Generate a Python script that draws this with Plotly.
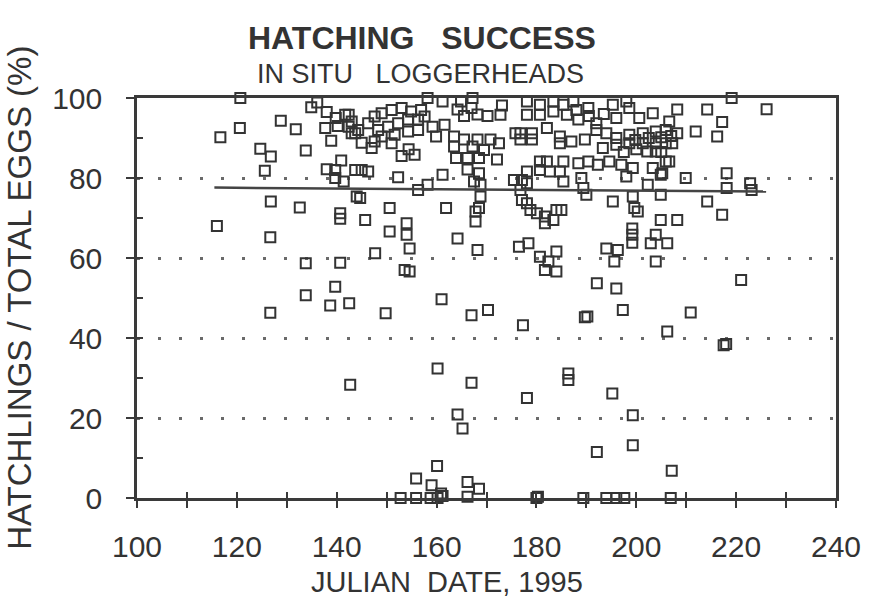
import plotly.graph_objects as go

# Julian day of each in-situ loggerhead nest and its hatching success (%)
julian_day = [
    # early season, sparse
    116.0, 116.7, 120.7, 120.6, 124.7, 126.8, 125.6, 128.8, 131.8, 133.8,
    126.8, 132.6, 126.7, 126.7, 133.8, 133.8, 134.9, 136.1, 138.0, 139.8,
    141.7, 137.7, 140.2, 142.4, 143.7, 138.9, 140.9, 138.0, 139.7, 143.7,
    139.7, 141.4, 144.0, 140.7, 140.7, 145.7, 140.7, 139.7, 138.7, 142.5,
    142.7,
    # 142-158
    142.4, 143.0, 143.0, 144.3, 146.3, 147.6, 149.0, 151.0, 153.0, 154.9,
    156.9, 148.3, 150.3, 152.3, 154.3, 156.3, 157.6, 149.0, 151.6, 154.3,
    156.3, 147.6, 145.0, 147.0, 151.0, 153.0, 155.6, 154.4, 145.0, 146.3,
    150.6, 144.7, 156.3, 158.2, 152.3, 154.0, 150.6, 154.0, 154.6, 147.7,
    153.6, 154.6, 149.8,
    # 158-176
    158.2, 161.2, 164.9, 167.2, 167.0, 173.1, 172.8, 164.2, 165.5, 168.2,
    170.2, 159.2, 161.6, 159.9, 163.5, 165.5, 168.2, 170.8, 172.5, 163.5,
    167.2, 169.5, 175.8, 163.9, 166.2, 168.5, 172.1, 166.2, 168.5, 161.2,
    167.5, 168.8, 168.8, 175.5, 168.5, 161.9, 164.2, 167.8, 167.8, 168.2,
    161.0, 167.0, 170.3, 177.3, 160.2, 167.0, 164.2, 165.2, 160.1, 155.9,
    159.0, 160.9, 166.2, 168.5, 166.2, 152.8, 155.9, 158.8, 160.2, 161.2,
    # 176-186
    177.1, 176.8, 177.1, 178.1, 178.8, 180.1, 181.7, 183.4, 181.7, 184.0,
    176.5, 178.4, 180.7, 182.4, 184.0, 181.7, 184.0, 178.1, 186.4, 186.4,
    180.0, 180.3, 178.1, 180.7, 183.4, 185.4, 178.1, 180.7, 183.4, 186.1,
    176.8, 179.1, 176.8, 179.1, 182.1, 184.7, 184.7, 180.7, 182.1, 185.4,
    180.7, 182.7, 184.7, 178.1, 178.1, 185.4, 185.0,
    # 186-210
    187.4, 190.4, 195.3, 198.0, 198.6, 188.4, 192.0, 196.0, 200.6, 203.3,
    206.6, 187.0, 189.7, 192.0, 194.0, 196.0, 198.6, 201.3, 203.9, 205.9,
    196.0, 198.6, 201.3, 203.9, 205.9, 202.2, 203.9, 193.3, 189.0, 188.4,
    190.4, 192.3, 194.6, 197.0, 199.3, 203.3, 206.6, 198.0, 204.9, 189.4,
    202.3, 190.0, 195.3, 199.3, 204.9, 199.6, 200.3, 204.9, 208.2, 199.2,
    199.2, 199.2, 203.9, 202.9, 206.2, 194.0, 196.3, 195.6, 203.9, 192.1,
    196.0, 197.3, 189.7, 190.2, 195.2, 199.3, 192.1, 199.3, 189.4, 194.0,
    196.0, 197.6, 197.5, 200.0, 205.0, 207.0, 199.8, 202.5, 205.0, 190.5,
    193.5, 188.0,
    # late season
    208.2, 214.2, 219.1, 226.1, 217.2, 211.9, 216.2, 208.2, 207.2, 205.9,
    205.2, 209.9, 218.1, 218.1, 222.8, 223.1, 214.2, 217.2, 210.9, 206.2,
    217.5, 218.0, 221.0, 207.1, 206.9,
]

hatch_pct = [
    # early season, sparse
    68.0, 90.2, 100.0, 92.5, 87.3, 85.4, 81.8, 94.3, 92.2, 86.9,
    74.1, 72.6, 65.2, 46.3, 58.7, 50.7, 97.7, 98.9, 96.5, 95.0,
    95.8, 92.5, 93.0, 92.8, 91.2, 89.3, 84.4, 82.2, 82.0, 82.0,
    80.0, 79.1, 75.4, 71.2, 69.8, 69.5, 58.8, 52.8, 48.1, 48.7,
    28.3,
    # 142-158
    95.8, 94.1, 91.2, 92.0, 93.7, 95.4, 96.2, 97.0, 97.5, 96.6,
    97.0, 92.0, 92.8, 93.7, 94.6, 94.6, 95.4, 90.4, 90.8, 91.6,
    92.0, 89.1, 88.8, 87.5, 88.7, 85.5, 85.8, 87.2, 82.0, 81.6,
    72.5, 75.0, 77.0, 78.3, 80.2, 68.7, 66.6, 65.8, 62.4, 61.2,
    57.0, 56.6, 46.2,
    # 158-176
    100.0, 99.1, 99.1, 100.0, 97.5, 98.1, 95.8, 97.1, 95.5, 95.9,
    95.5, 92.8, 93.3, 90.4, 90.4, 89.6, 89.6, 89.6, 88.7, 87.9,
    87.9, 87.0, 91.2, 85.0, 85.0, 85.0, 84.6, 82.1, 81.2, 80.8,
    79.1, 78.3, 75.4, 79.5, 72.5, 72.5, 64.9, 71.6, 69.1, 62.0,
    49.7, 45.7, 47.0, 43.2, 32.4, 28.8, 20.9, 17.4, 8.0, 4.9,
    3.2, 1.1, 4.0, 2.3, 0.3, 0.0, 0.0, 0.0, 0.0, 0.5,
    # 176-186
    79.5, 77.0, 74.5, 73.7, 72.0, 71.2, 70.4, 69.5, 68.7, 72.0,
    62.8, 63.7, 60.3, 59.1, 61.6, 57.0, 56.6, 25.0, 31.1, 29.5,
    0.0, 0.3, 99.1, 98.3, 99.1, 98.3, 95.8, 95.8, 96.6, 95.8,
    91.2, 91.2, 89.6, 89.6, 92.5, 90.4, 88.7, 84.1, 84.1, 84.1,
    82.0, 81.6, 81.6, 81.6, 78.7, 79.1, 72.0,
    # 186-210
    99.1, 97.5, 98.3, 99.1, 97.5, 94.6, 93.7, 95.0, 95.0, 96.2,
    94.1, 89.1, 89.6, 92.0, 91.2, 90.0, 90.8, 91.2, 91.6, 92.0,
    88.3, 88.7, 88.7, 88.7, 88.7, 86.6, 86.6, 87.5, 80.0, 83.7,
    84.1, 83.3, 84.1, 83.3, 82.5, 82.5, 84.1, 80.4, 80.8, 77.5,
    78.3, 75.8, 74.1, 75.4, 75.8, 72.5, 71.6, 69.5, 69.5, 67.4,
    65.8, 63.8, 65.8, 63.7, 63.7, 62.4, 62.0, 59.1, 59.1, 53.7,
    52.4, 47.0, 45.2, 45.4, 26.1, 20.7, 11.5, 13.2, 0.0, 0.0,
    0.0, 0.0, 86.5, 87.2, 86.5, 90.5, 89.5, 90.0, 90.2, 95.5,
    96.0, 97.0,
    # late season
    97.1, 97.1, 100.0, 97.2, 94.0, 91.6, 90.4, 91.2, 88.7, 84.1,
    81.2, 80.0, 81.2, 77.5, 78.7, 77.0, 74.1, 70.8, 46.4, 41.6,
    38.2, 38.5, 54.5, 6.8, 0.0,
]

# least-squares trend of hatching success against date (end points)
fit_day = [115.5, 226.0]
fit_pct = [77.6, 76.6]

x_ticks = [100, 120, 140, 160, 180, 200, 220, 240]
y_ticks = [0, 20, 40, 60, 80, 100]

INK = "#333333"
FONT = "Liberation Sans, Arial, Helvetica, sans-serif"

fig = go.Figure()

fig.add_trace(go.Scatter(
    x=julian_day, y=hatch_pct, mode="markers",
    marker=dict(symbol="square-open", size=10, color=INK,
                line=dict(width=2, color=INK)),
    cliponaxis=False, showlegend=False, hoverinfo="x+y",
))

fig.add_trace(go.Scatter(
    x=fit_day, y=fit_pct, mode="lines",
    line=dict(color="#444444", width=2.5),
    xaxis="x2", yaxis="y2", showlegend=False, hoverinfo="skip",
))

axis_common = dict(showline=True, linecolor="#3a3a3a", linewidth=2.5,
                   zeroline=False, fixedrange=True)

fig.update_layout(
    width=873, height=604,
    margin=dict(l=137, r=31, t=98, b=106),
    paper_bgcolor="white", plot_bgcolor="white",
    font=dict(family=FONT, color=INK),
    xaxis=dict(
        range=[100, 240], tickvals=x_ticks, ticktext=[str(v) for v in x_ticks],
        ticks="outside", ticklen=7, tickwidth=2, tickcolor="#3a3a3a",
        minor=dict(dtick=10, ticks="outside", ticklen=7, tickwidth=2,
                   tickcolor="#3a3a3a", showgrid=False),
        tickfont=dict(size=30, color=INK), ticklabelstandoff=13,
        showgrid=False, mirror=True, **axis_common,
    ),
    yaxis=dict(
        range=[0, 100], tickvals=y_ticks, ticktext=[str(v) for v in y_ticks],
        ticks="outside", ticklen=8, tickwidth=2, tickcolor="#3a3a3a",
        tickfont=dict(size=30, color=INK), ticklabelstandoff=18,
        showgrid=True, gridcolor="#6a6a6a", gridwidth=3, griddash="3px,18px",
        mirror=True, **axis_common,
    ),
    xaxis2=dict(
        range=[100, 240], overlaying="x", dtick=10, tick0=100,
        ticks="inside", ticklen=6, tickwidth=2, tickcolor="#3a3a3a",
        showticklabels=False, showgrid=False, showline=False,
        zeroline=False, fixedrange=True,
    ),
    yaxis2=dict(
        range=[0, 100], overlaying="y", dtick=10, tick0=0,
        ticks="inside", ticklen=6, tickwidth=2, tickcolor="#3a3a3a",
        showticklabels=False, showgrid=False, showline=False,
        zeroline=False, fixedrange=True,
    ),
    annotations=[
        dict(text="<b>HATCHING   SUCCESS</b>", xref="paper", yref="paper",
             x=0.408, y=1.15, xanchor="center", yanchor="middle",
             showarrow=False, font=dict(size=32, color=INK, family=FONT)),
        dict(text="IN SITU   LOGGERHEADS", xref="paper", yref="paper",
             x=0.405, y=1.06, xanchor="center", yanchor="middle",
             showarrow=False, font=dict(size=27, color=INK, family=FONT)),
        dict(text="HATCHLINGS / TOTAL EGGS (%)", xref="paper", yref="paper",
             x=-0.169, y=0.5, xanchor="center", yanchor="middle",
             textangle=-90, showarrow=False,
             font=dict(size=33, color=INK, family=FONT)),
        dict(text="JULIAN  DATE, 1995", xref="paper", yref="paper",
             x=0.444, y=-0.21, xanchor="center", yanchor="middle",
             showarrow=False, font=dict(size=29, color=INK, family=FONT)),
    ],
)

fig.write_html("out.html")
